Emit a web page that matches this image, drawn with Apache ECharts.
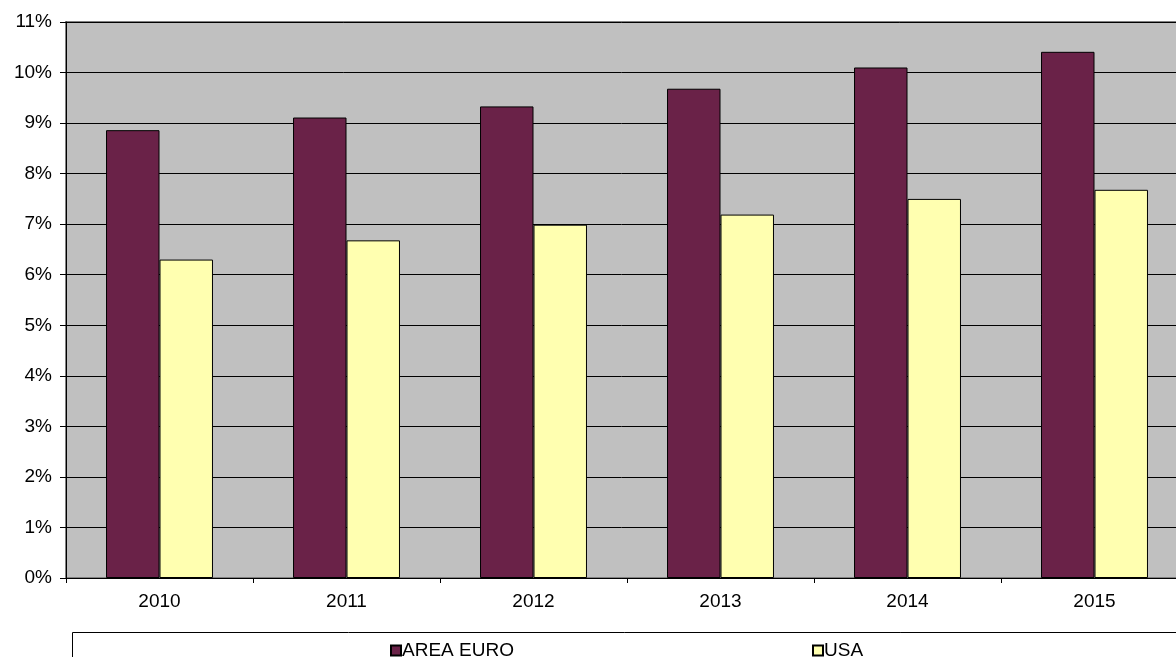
<!DOCTYPE html>
<html>
<head>
<meta charset="utf-8">
<script src="https://cdn.jsdelivr.net/npm/echarts@6/dist/echarts.min.js"></script>
<style>html,body{margin:0;padding:0;background:#fff;}#c{width:1176px;height:657px;}</style>
</head>
<body>
<div id="c"></div>
<script>
const categories = ['2010', '2011', '2012', '2013', '2014', '2015'];
const areaEuro = [0.0886, 0.0911, 0.0933, 0.0968, 0.1010, 0.1041];
const usa = [0.0630, 0.0668, 0.0699, 0.0719, 0.0750, 0.0768];
const seriesNames = ['AREA EURO', 'USA'];
const yMin = 0, yMax = 0.11, yStep = 0.01;

const font = 'Arial, "Liberation Sans", sans-serif';
const chart = echarts.init(document.getElementById('c'));
chart.setOption({
  animation: false,
  backgroundColor: '#ffffff',
  grid: {
    left: 66, top: 22, width: 1122, height: 556,
    outerBoundsMode: 'none', containLabel: false,
    show: true, backgroundColor: '#C0C0C0', borderColor: '#808080', borderWidth: 2
  },
  graphic: [{
    type: 'rect', left: 72, top: 632, z: -1,
    shape: { width: 1200, height: 40 },
    style: { fill: '#ffffff', stroke: '#000000', lineWidth: 1 }
  }],
  legend: [{
    data: [seriesNames[0]], left: 385, top: 636, itemWidth: 10, itemHeight: 10,
    icon: 'rect', itemGap: 0,
    textStyle: { fontFamily: font, fontSize: 19, color: '#000', padding: [0, 0, 0, -4] }
  }, {
    data: [seriesNames[1]], left: 807, top: 636, itemWidth: 10, itemHeight: 10,
    icon: 'rect', itemGap: 0,
    textStyle: { fontFamily: font, fontSize: 19, color: '#000', padding: [0, 0, 0, -4] }
  }],
  xAxis: {
    type: 'category', data: categories, boundaryGap: true,
    axisLine: { lineStyle: { color: '#000', width: 1 } },
    axisTick: { show: true, interval: 0, length: 5, lineStyle: { color: '#000' } },
    axisLabel: { fontFamily: font, fontSize: 19, color: '#000', margin: 14 }
  },
  yAxis: {
    type: 'value', min: yMin, max: yMax, interval: yStep,
    axisLine: { show: true, lineStyle: { color: '#000', width: 1 } },
    axisTick: { show: true, length: 6, lineStyle: { color: '#000' } },
    splitLine: { show: true, lineStyle: { color: '#000', width: 1 } },
    axisLabel: {
      fontFamily: font, fontSize: 19, color: '#000', margin: 14,
      formatter: v => Math.round(v * 100) + '%'
    }
  },
  series: [{
    name: seriesNames[0], type: 'bar', data: areaEuro,
    barGap: '0%', barCategoryGap: '42.8%',
    itemStyle: { color: '#6A2248', borderColor: '#000', borderWidth: 1 }
  }, {
    name: seriesNames[1], type: 'bar', data: usa,
    itemStyle: { color: '#FFFFB0', borderColor: '#000', borderWidth: 1 }
  }]
});
</script>
</body>
</html>
